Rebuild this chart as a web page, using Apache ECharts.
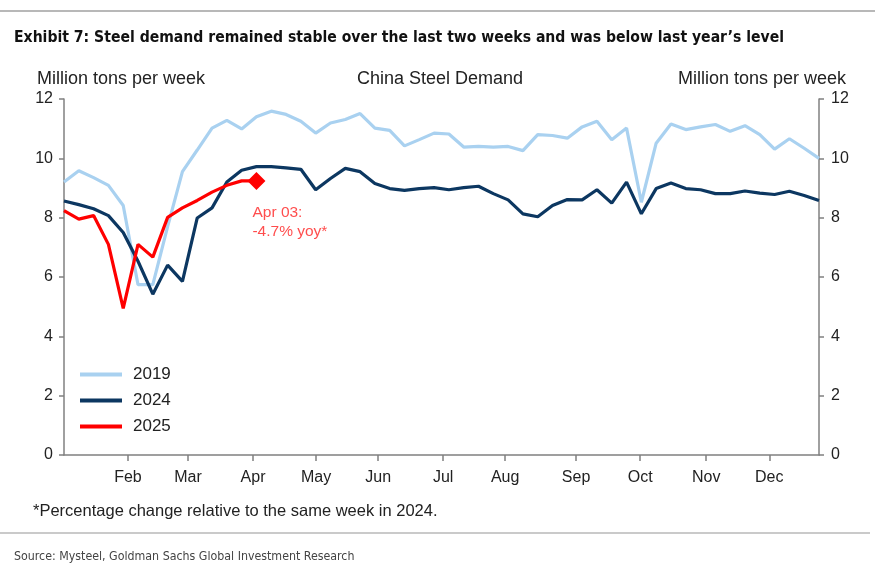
<!DOCTYPE html>
<html>
<head>
<meta charset="utf-8">
<script src="https://cdn.jsdelivr.net/npm/echarts@6/dist/echarts.min.js"></script>
<style>
html,body{margin:0;padding:0;background:#fff;}
#c{width:875px;height:567px;}
</style>
</head>
<body>
<div id="c"></div>
<script>
// Weekly China steel demand, million tons per week (week index 0..51)
const s2019 = [9.20,9.58,9.35,9.09,8.41,5.74,5.74,7.70,9.55,10.28,11.02,11.28,10.99,11.40,11.59,11.48,11.25,10.85,11.19,11.31,11.51,11.02,10.94,10.42,10.63,10.85,10.82,10.38,10.40,10.38,10.40,10.26,10.80,10.77,10.68,11.06,11.25,10.63,11.02,8.52,10.51,11.16,10.97,11.06,11.14,10.91,11.10,10.80,10.31,10.66,10.34,10.00];
const s2024 = [8.56,8.44,8.30,8.07,7.50,6.53,5.42,6.40,5.85,7.99,8.33,9.20,9.60,9.72,9.72,9.68,9.63,8.94,9.32,9.66,9.55,9.15,8.98,8.92,8.98,9.01,8.94,9.01,9.06,8.81,8.60,8.13,8.03,8.41,8.61,8.60,8.94,8.49,9.20,8.13,8.98,9.17,8.98,8.94,8.81,8.81,8.90,8.83,8.78,8.89,8.75,8.58];
const s2025 = [8.24,7.95,8.07,7.10,4.94,7.10,6.67,8.01,8.33,8.58,8.86,9.09,9.24,9.24];
const monthNames = ['Feb','Mar','Apr','May','Jun','Jul','Aug','Sep','Oct','Nov','Dec'];
const monthPos = [4.32,8.38,12.77,17.03,21.22,25.61,29.80,34.59,38.92,43.38,47.64];
const yTicks = [0,2,4,6,8,10,12];
const annotation = ['Apr 03:', '-4.7% yoy*'];

const pairs = arr => arr.map((v,i)=>[i,v]);
const FONT = "'Liberation Sans', Arial, sans-serif";
const NARROW = "'Liberation Sans Narrow', 'DejaVu Sans Condensed', sans-serif";
const AX = '#808080';

const chart = echarts.init(document.getElementById('c'), null, {renderer:'canvas'});
const yAxisCommon = {
  type:'value', min:yTicks[0], max:yTicks[yTicks.length-1], interval:2,
  axisLine:{show:true, lineStyle:{color:AX, width:1.5}},
  axisTick:{show:true, length:5, lineStyle:{color:AX, width:1.5}},
  splitLine:{show:false},
  axisLabel:{color:'#222', fontSize:16, fontFamily:FONT, margin:11}
};
const last25 = s2025.length-1;
chart.setOption({
  animation:false,
  backgroundColor:'#fff',
  title:[
    {text:'Exhibit 7: Steel demand remained stable over the last two weeks and was below last year\u2019s level',
     left:9, top:25, textStyle:{fontFamily:NARROW, fontWeight:'bold', fontSize:15.6, color:'#111'}},
    {text:'Million tons per week', left:32, top:65, textStyle:{fontFamily:FONT, fontWeight:'normal', fontSize:18, color:'#222'}},
    {text:'China Steel Demand', left:352, top:65, textStyle:{fontFamily:FONT, fontWeight:'normal', fontSize:18, color:'#222'}},
    {text:'Million tons per week', right:24, top:65, textStyle:{fontFamily:FONT, fontWeight:'normal', fontSize:18, color:'#222'}},
    {text:'*Percentage change relative to the same week in 2024.', left:28, top:498, textStyle:{fontFamily:FONT, fontWeight:'normal', fontSize:16.5, color:'#222'}},
    {text:'Source: Mysteel, Goldman Sachs Global Investment Research', left:9, top:546, textStyle:{fontFamily:NARROW, fontWeight:'normal', fontSize:12.3, color:'#444'}}
  ],
  graphic:[
    {type:'line', shape:{x1:0,y1:11,x2:875,y2:11}, style:{stroke:'#b8b8b8', lineWidth:2}},
    {type:'line', shape:{x1:0,y1:533,x2:870,y2:533}, style:{stroke:'#b8b8b8', lineWidth:1.5}}
  ],
  legend:{
    orient:'vertical', left:75, top:361, itemWidth:42, itemHeight:4, itemGap:9,
    icon:'rect',
    textStyle:{fontFamily:FONT, fontSize:17, color:'#222', padding:[0,0,0,6]},
    data:['2019','2024','2025']
  },
  grid:{left:64, right:56, top:99, bottom:112, containLabel:false},
  xAxis:{
    type:'value', min:0, max:51,
    axisLine:{show:true, onZero:false, lineStyle:{color:AX, width:1.5}},
    axisTick:{show:true, length:6, customValues:monthPos, lineStyle:{color:AX, width:1.5}},
    axisLabel:{show:true, customValues:monthPos, fontSize:16, fontFamily:FONT, color:'#222', margin:15,
      formatter:(v)=>{ const k = monthPos.findIndex(p=>Math.abs(p-v)<1e-6); return k>=0?monthNames[k]:''; }},
    splitLine:{show:false}
  },
  yAxis:[
    Object.assign({position:'left'}, yAxisCommon),
    Object.assign({position:'right'}, yAxisCommon, {axisLabel:Object.assign({}, yAxisCommon.axisLabel, {margin:12})})
  ],
  series:[
    {name:'2019', type:'line', data:pairs(s2019), symbol:'none', color:'#a9d1f0', lineStyle:{width:3.2, color:'#a9d1f0'}, z:2},
    {name:'2024', type:'line', data:pairs(s2024), symbol:'none', color:'#0c3761', lineStyle:{width:3.2, color:'#0c3761'}, z:3},
    {name:'2025', type:'line', data:pairs(s2025), symbol:'none', color:'#ff0000', lineStyle:{width:3.2, color:'#ff0000'}, z:4,
      markPoint:{
        symbol:'diamond', symbolSize:[18,18],
        itemStyle:{color:'#ff0000'},
        label:{show:false},
        data:[{coord:[last25, s2025[last25]]}]
      }
    },
    {name:'note', type:'scatter', data:[[last25, s2025[last25]]], symbolSize:0, silent:true, z:5,
      label:{show:true, position:'bottom', distance:22, align:'left', offset:[-4,0],
        formatter:annotation.join('\n'), color:'#ff2020', fontSize:15.5, fontFamily:FONT, lineHeight:19}
    }
  ]
});
</script>
</body>
</html>
